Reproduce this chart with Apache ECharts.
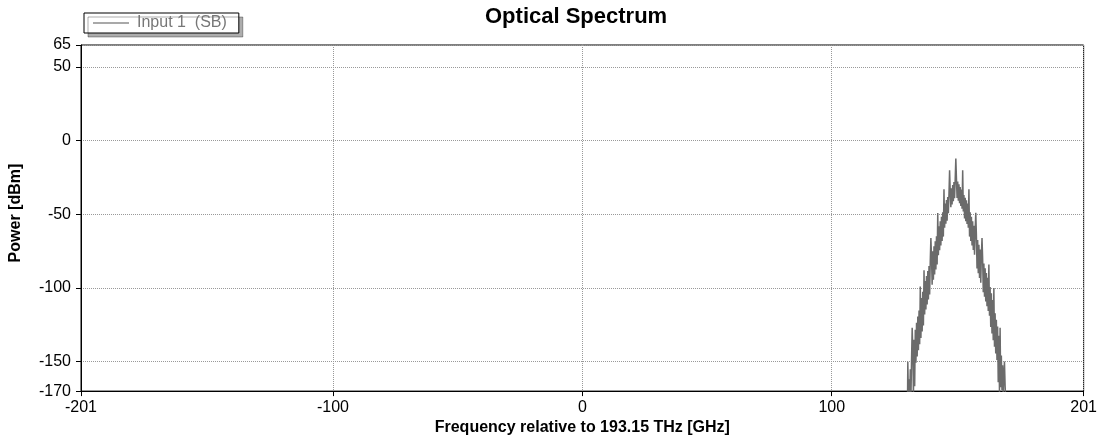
<!DOCTYPE html>
<html><head><meta charset="utf-8">
<script src="https://cdn.jsdelivr.net/npm/echarts@6/dist/echarts.min.js"></script>
<style>html,body{margin:0;padding:0;background:#fff}#chart{width:1100px;height:441px}</style>
</head><body><div id="chart"></div>
<script>
const titleText = 'Optical Spectrum';
const seriesName = 'Input 1  (SB)';
const xAxisName = 'Frequency relative to 193.15 THz [GHz]';
const yAxisName = 'Power [dBm]';
const xTicks = [-201, -100, 0, 100, 201];
const yTicks = [-170, -150, -100, -50, 0, 50, 65];
const freqGHz = [130.4,
  130.5,130.75,131,131.25,131.5,131.75,132,132.25,132.5,132.75,133,133.25,133.5,133.75,134,134.25,134.5,134.75,135,135.25,
  135.5,135.75,136,136.25,136.5,136.75,137,137.25,137.5,137.75,138,138.25,138.5,138.75,139,139.25,139.5,139.75,140,140.25,
  140.5,140.75,141,141.25,141.5,141.75,142,142.25,142.5,142.75,143,143.25,143.5,143.75,144,144.25,144.5,144.75,145,145.25,
  145.5,145.75,146,146.25,146.5,146.75,147,147.25,147.5,147.75,148,148.25,148.5,148.75,149,149.25,149.5,149.75,150,150.25,
  150.5,150.75,151,151.25,151.5,151.75,152,152.25,152.5,152.75,153,153.25,153.5,153.75,154,154.25,154.5,154.75,155,155.25,
  155.5,155.75,156,156.25,156.5,156.75,157,157.25,157.5,157.75,158,158.25,158.5,158.75,159,159.25,159.5,159.75,160,160.25,
  160.5,160.75,161,161.25,161.5,161.75,162,162.25,162.5,162.75,163,163.25,163.5,163.75,164,164.25,164.5,164.75,165,165.25,
  165.5,165.75,166,166.25,166.5,166.75,167,167.25,167.5,167.75,168,168.25,168.5,168.75,169,169.25,169.5,169.75,170];
const powerDbm = [-172,
  -150,-175,-161.9,-175,-155.2,-175,-148.5,-127,-141.8,-173.4,-135.1,-166.7,-128.3,-150.7,-123.6,-146.5,-119.4,-142.3,-115.2,-138.1,
  -99,-133.9,-106.8,-129.6,-102.5,-125.4,-88,-118,-95.3,-114.6,-91.9,-111.2,-88.5,-107.8,-85.1,-104.4,-81.7,-66,-78.4,-97.7,
  -75.0,-94.3,-71.6,-90.9,-68.2,-87.5,-64.8,-84.1,-49,-77.7,-58.1,-74.4,-54.7,-71.1,-51.6,-68.1,-48.6,-65.1,-33,-59.1,
  -42.6,-56.4,-40.3,-54.3,-38.3,-49.3,-36.3,-20,-34.2,-45.2,-32.2,-43.2,-30.1,-41.1,-28.1,-39.1,-26.0,-12,-25.9,-38.8,
  -27.7,-40.7,-29.6,-42.5,-31.4,-44.3,-33.2,-46.2,-20,-48,-36.9,-52.8,-38.7,-54.6,-40.5,-56.5,-42.6,-59.1,-33,-65.1,
  -48.6,-68.1,-51.6,-71.1,-54.6,-74.2,-57.8,-77.4,-61.0,-49,-64.2,-86.8,-67.4,-90,-70.6,-93.2,-73.8,-96.4,-77.0,-66,
  -80.2,-102.8,-83.4,-106,-86.6,-109.2,-89.8,-112.4,-93.0,-115.6,-84,-118.8,-99.4,-126.4,-103.6,-130.9,-108.1,-135.4,-100,-139.9,
  -117.1,-144.4,-121.6,-148.9,-126.1,-164,-132.4,-170.7,-127,-167.4,-145.8,-169.2,-152.5,-175,-159.2,-150,-166.0,-175,-175];

const FONT = '"Liberation Sans", Arial, sans-serif';
const chart = echarts.init(document.getElementById('chart'), null, {renderer: 'canvas'});
chart.setOption({
  animation: false,
  backgroundColor: '#fff',
  title: {
    text: titleText, left: 485, top: 6, padding: 0,
    textStyle: {fontFamily: FONT, fontSize: 22, fontWeight: 'bold', color: '#000'}
  },
  legend: {
    data: [{name: seriesName, icon: 'rect'}],
    left: 84, top: 13,
    itemWidth: 36, itemHeight: 1,
    padding: [2, 12, 2, 9],
    borderColor: '#000', borderWidth: 1, backgroundColor: '#fff',
    shadowColor: 'rgba(0,0,0,0.32)', shadowOffsetX: 4, shadowOffsetY: 4, shadowBlur: 0,
    itemStyle: {color: '#555'},
    textStyle: {fontFamily: FONT, fontSize: 16, color: '#777', padding: [0, 0, 0, 3]}
  },
  grid: {left: 80, right: 15, top: 45, bottom: 48, show: true, borderColor: '#000', borderWidth: 1, backgroundColor: '#fff'},
  xAxis: {
    type: 'value', min: -201, max: 201,
    name: xAxisName, nameLocation: 'middle', nameGap: 28,
    nameTextStyle: {fontFamily: FONT, fontSize: 16, fontWeight: 'bold', color: '#000'},
    axisLine: {show: true, onZero: false, lineStyle: {color: '#000', width: 1}},
    axisTick: {show: true, customValues: xTicks, length: 5, lineStyle: {color: '#000'}},
    axisLabel: {customValues: xTicks, fontFamily: FONT, fontSize: 16, color: '#000', margin: 8},
    splitLine: {show: true, lineStyle: {type: 'dotted', color: '#999', width: 1}}
  },
  yAxis: {
    type: 'value', min: -170, max: 65,
    name: yAxisName, nameLocation: 'middle', nameGap: 57,
    nameTextStyle: {fontFamily: FONT, fontSize: 16, fontWeight: 'bold', color: '#000', padding: [0, 0, 0, 10]},
    axisLine: {show: true, onZero: false, lineStyle: {color: '#000', width: 1}},
    axisTick: {show: true, customValues: yTicks, length: 5, lineStyle: {color: '#000'}},
    axisLabel: {customValues: yTicks, fontFamily: FONT, fontSize: 16, color: '#000', margin: 10},
    splitLine: {show: true, lineStyle: {type: 'dotted', color: '#999', width: 1}}
  },
  series: [{
    name: seriesName, type: 'line', showSymbol: false, symbol: 'none', clip: true,
    lineStyle: {color: '#6b6b6b', width: 1.5}, itemStyle: {color: '#6b6b6b'},
    data: freqGHz.map((f, i) => [f, powerDbm[i]])
  }]
});
</script></body></html>
